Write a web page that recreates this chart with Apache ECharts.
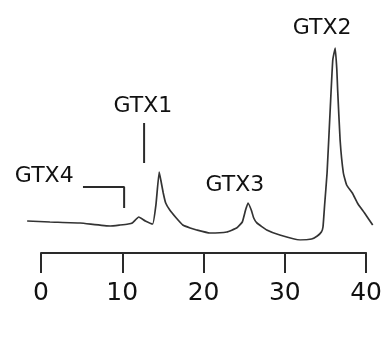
<!DOCTYPE html>
<html>
<head>
<meta charset="utf-8">
<script src="https://cdn.jsdelivr.net/npm/echarts@6/dist/echarts.min.js"></script>
<style>html,body{margin:0;padding:0;background:#fff}#c{width:385px;height:338px}</style>
</head>
<body>
<div id="c"></div>
<script>
// Retention time (min) and detector signal (arbitrary units)
var times = [-1.7, 1.1, 4.8, 8.5, 9.7, 10.7, 11.2, 12.0, 12.8, 13.7, 14.1, 14.5, 14.7, 15.0, 15.3, 15.8, 16.6, 17.4, 18.3, 19.1, 20.7, 22.8, 24.0, 24.7, 25.1, 25.4, 25.8, 26.1, 26.5, 27.7, 29.3, 31.8, 33.2, 33.9, 34.4, 34.6, 34.8, 35.1, 35.5, 35.8, 36.1, 36.3, 36.4, 36.7, 37.1, 37.5, 38.2, 38.9, 39.7, 40.7];
var signal = [19, 18, 17, 14, 15, 16, 17, 23, 19, 16, 35, 68, 60, 47, 37, 30, 22, 15, 12, 10, 7, 8, 12, 18, 30, 37, 30, 22, 17, 10, 5, 0, 1, 4, 8, 13, 35, 67, 133, 180, 192, 170, 150, 100, 67, 55, 47, 36, 27, 15];
var tickValues = [0, 10, 20, 30, 40];
// Peak annotations (label text and anchor in data units)
var peakNames = ['GTX4', 'GTX1', 'GTX3', 'GTX2'];
var peakLabelT = [0.4, 12.5, 23.8, 34.5];
var peakLabelV = [64, 134, 55, 212];
var gtx1LineT = [12.65, 12.65];
var gtx1LineV = [117, 77];
var gtx4BracketT = [5.15, 10.2, 10.2];
var gtx4BracketV = [53, 53, 32];

var zip = function (a, b) { return a.map(function (v, i) { return [v, b[i]]; }); };

var chart = echarts.init(document.getElementById('c'));
var font = 'DejaVu Sans, Verdana, sans-serif';
chart.setOption({
  animation: false,
  grid: [
    {left: 41, right: 18, top: 40, bottom: 85},
    {left: 24.7, right: 9.85, top: 0, bottom: 98}
  ],
  xAxis: [
    {gridIndex: 0, type: 'value', min: 0, max: 40, interval: 10,
      axisLine: {show: true, lineStyle: {color: '#2a2a2a', width: 2}},
      axisTick: {show: true, length: 20, lineStyle: {color: '#2a2a2a', width: 2}},
      axisLabel: {show: true, margin: 28, color: '#111', fontSize: 25, fontFamily: font,
        formatter: function (v) { return tickValues.indexOf(v) >= 0 ? String(v) : ''; }},
      splitLine: {show: false}},
    {gridIndex: 1, type: 'value', min: -2, max: 41, show: false}
  ],
  yAxis: [
    {gridIndex: 0, type: 'value', show: false},
    {gridIndex: 1, type: 'value', min: 0, max: 240, show: false}
  ],
  series: [
    {type: 'line', xAxisIndex: 1, yAxisIndex: 1, data: zip(times, signal), showSymbol: false,
      symbol: 'none', lineStyle: {color: '#333', width: 1.7}, smooth: 0.12},
    {type: 'line', xAxisIndex: 1, yAxisIndex: 1, data: zip(gtx1LineT, gtx1LineV), symbol: 'none',
      lineStyle: {color: '#2a2a2a', width: 2}},
    {type: 'line', xAxisIndex: 1, yAxisIndex: 1, data: zip(gtx4BracketT, gtx4BracketV), symbol: 'none',
      lineStyle: {color: '#2a2a2a', width: 2}},
    {type: 'scatter', xAxisIndex: 1, yAxisIndex: 1, symbolSize: 1,
      itemStyle: {color: 'transparent', opacity: 1},
      data: peakNames.map(function (n, i) { return {name: n, value: [peakLabelT[i], peakLabelV[i]]}; }),
      label: {show: true, position: [0.5, 0.5], align: 'center', verticalAlign: 'middle',
        formatter: '{b}', color: '#111', fontSize: 22, fontFamily: font}}
  ]
});
</script>
</body>
</html>
